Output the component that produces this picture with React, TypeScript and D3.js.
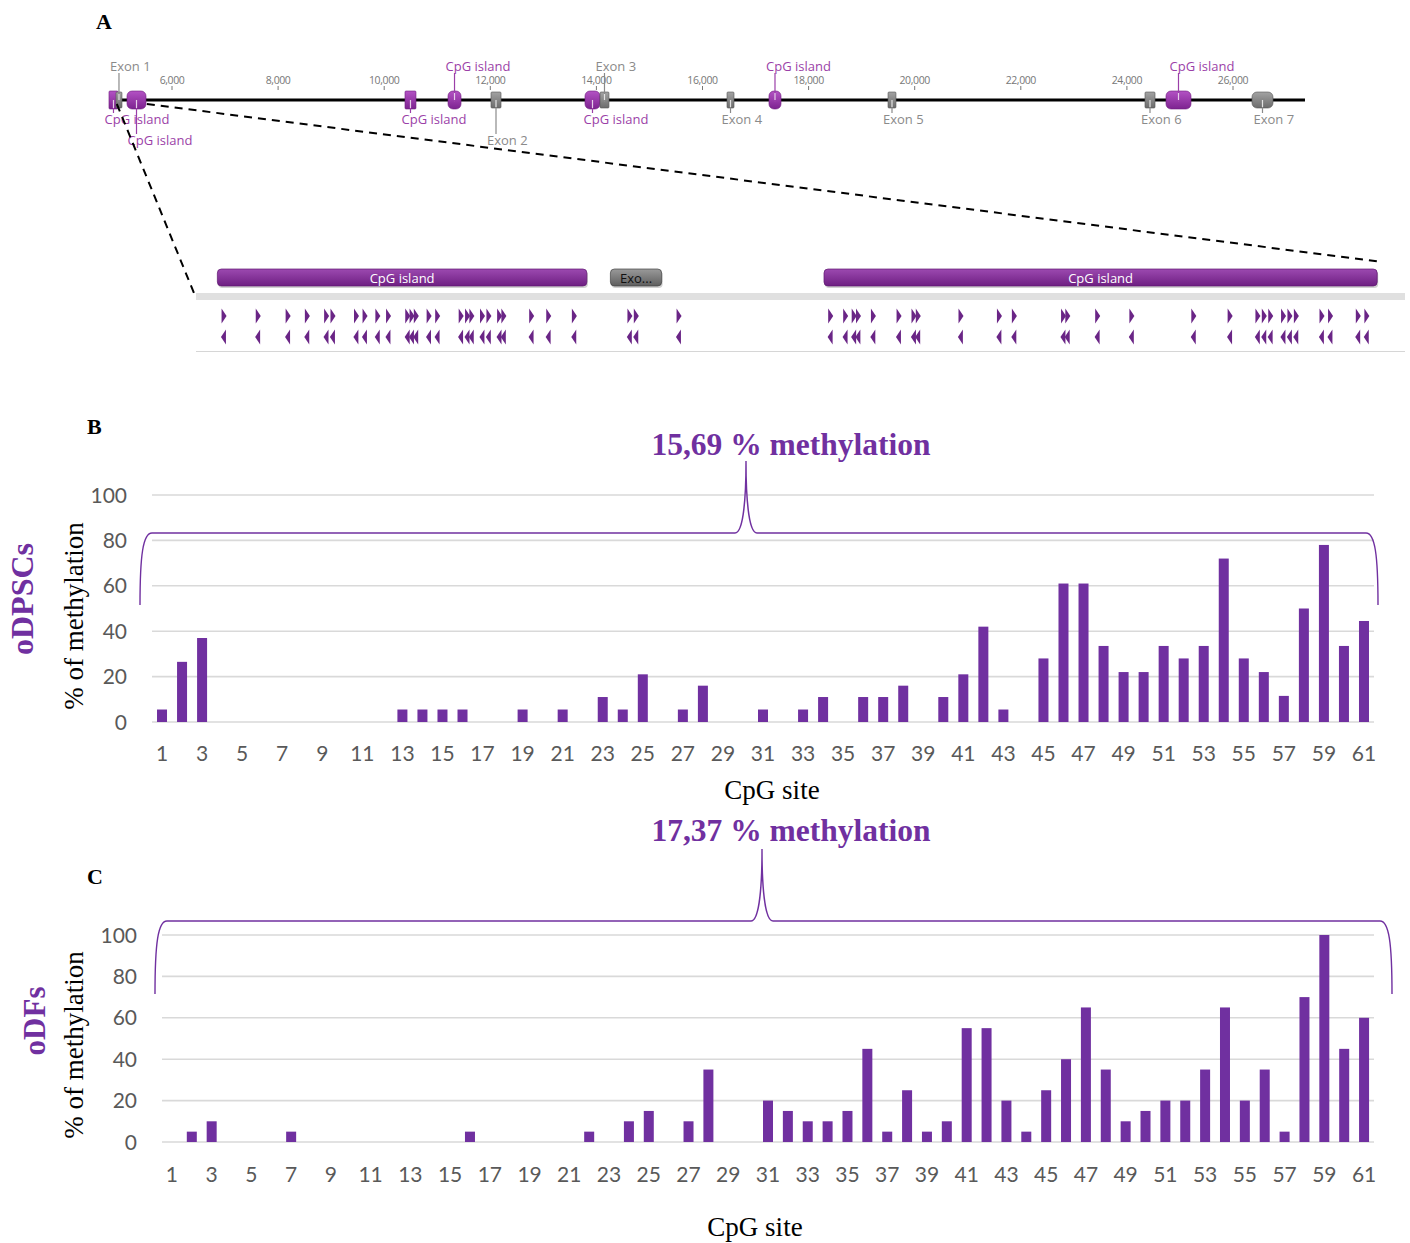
import React from "react";
import * as d3 from "d3";

const W = 1410;
const H = 1243;
const PURPLE = "#7030a0";
const TICK_GREY = "#595959";
const GRID = "#d9d9d9";
const SANS = "Lato, 'Open Sans', sans-serif";
const SERIF = "'Liberation Serif', 'Times New Roman', serif";
const GMAP_FONT = "'Open Sans', 'Noto Sans', sans-serif";

// ---- panel A: gene map (bp positions) ----
const mapTicks = [6000, 8000, 10000, 12000, 14000, 16000, 18000, 20000, 22000, 24000, 26000];
const mapSpan = [4831, 27357];
const mapFeatures = [
  { name: "CpG island", kind: "cpg", start: 4812, end: 4982, label: "below1" },
  { name: "Exon 1", kind: "exon", start: 4944, end: 5057, label: "above" },
  { name: "CpG island", kind: "cpg", start: 5152, end: 5510, label: "below2" },
  { name: "CpG island", kind: "cpg", start: 10392, end: 10599, label: "below1" },
  { name: "CpG island", kind: "cpg", start: 11203, end: 11448, label: "above" },
  { name: "Exon 2", kind: "exon", start: 12013, end: 12202, label: "below2" },
  { name: "CpG island", kind: "cpg", start: 13785, end: 14068, label: "below1" },
  { name: "Exon 3", kind: "exon", start: 14068, end: 14237, label: "above" },
  { name: "Exon 4", kind: "exon", start: 16462, end: 16594, label: "below1" },
  { name: "CpG island", kind: "cpg", start: 17253, end: 17480, label: "above" },
  { name: "Exon 5", kind: "exon", start: 19497, end: 19647, label: "below1" },
  { name: "Exon 6", kind: "exon", start: 24341, end: 24530, label: "below1" },
  { name: "CpG island", kind: "cpg", start: 24737, end: 25208, label: "above" },
  { name: "Exon 7", kind: "exon", start: 26358, end: 26754, label: "below1" },
];

// zoomed promoter region
const zoomSpan = [4960, 5526];
const zoomBlocks = [
  { name: "CpG island", kind: "cpg", start: 4970, end: 5143 },
  { name: "Exo...", kind: "exon", start: 5154, end: 5178 },
  { name: "CpG island", kind: "cpg", start: 5254, end: 5513 },
];
const cpgSites = [
  4973, 4989, 5003, 5012, 5021, 5024, 5035, 5039, 5045, 5050, 5059, 5061, 5063, 5069,
  5073, 5084, 5087, 5089, 5094, 5097, 5102, 5104, 5117, 5125, 5137, 5163, 5166, 5186,
  5257, 5264, 5268, 5270, 5277, 5289, 5296, 5298, 5318, 5336, 5343, 5366, 5368, 5382,
  5398, 5427, 5444, 5457, 5460, 5463, 5469, 5472, 5475, 5487, 5491, 5504, 5508,
];

// ---- panels B and C: % methylation per CpG site ----
const cpgSiteIds = d3.range(1, 62);
const yTicks = [0, 20, 40, 60, 80, 100];
const odpscValues = [
  5.5, 26.5, 37, 0, 0, 0, 0, 0, 0, 0, 0, 0, 5.5, 5.5, 5.5, 5.5, 0, 0, 5.5, 0,
  5.5, 0, 11, 5.5, 21, 0, 5.5, 16, 0, 0, 5.5, 0, 5.5, 11, 0, 11, 11, 16, 0, 11,
  21, 42, 5.5, 0, 28, 61, 61, 33.5, 22, 22, 33.5, 28, 33.5, 72, 28, 22, 11.5, 50, 78, 33.5,
  44.5,
];
const odfValues = [
  0, 5, 10, 0, 0, 0, 5, 0, 0, 0, 0, 0, 0, 0, 0, 5, 0, 0, 0, 0,
  0, 5, 0, 10, 15, 0, 10, 35, 0, 0, 20, 15, 10, 10, 15, 45, 5, 25, 5, 10,
  55, 55, 20, 5, 25, 40, 65, 35, 10, 15, 20, 20, 35, 65, 20, 35, 5, 70, 100, 45,
  60,
];
const odpscMean = "15,69 % methylation";
const odfMean = "17,37 % methylation";

function GeneMap() {
  const x = d3.scaleLinear().domain([6000, 26000]).range([172, 1233]);
  const fmt = d3.format(",");
  const lineY = 100;
  return (
    <g>
      <defs>
        <linearGradient id="cpgGrad" x1="0" y1="0" x2="0" y2="1">
          <stop offset="0" stopColor="#b352c4" />
          <stop offset="1" stopColor="#7d2390" />
        </linearGradient>
        <linearGradient id="exonGrad" x1="0" y1="0" x2="0" y2="1">
          <stop offset="0" stopColor="#a3a3a3" />
          <stop offset="1" stopColor="#6c6c6c" />
        </linearGradient>
        <linearGradient id="trackCpg" x1="0" y1="0" x2="0" y2="1">
          <stop offset="0" stopColor="#9c49b0" />
          <stop offset="1" stopColor="#6e1f82" />
        </linearGradient>
        <linearGradient id="trackExon" x1="0" y1="0" x2="0" y2="1">
          <stop offset="0" stopColor="#9a9a9a" />
          <stop offset="1" stopColor="#5e5e5e" />
        </linearGradient>
      </defs>
      {mapTicks.map((t) => (
        <g key={t}>
          <text x={x(t)} y={84} textAnchor="middle" fontSize={10.5} fill="#777" fontFamily={GMAP_FONT} letterSpacing={-0.4}>
            {fmt(t)}
          </text>
          <line x1={x(t)} x2={x(t)} y1={86} y2={90} stroke="#777" strokeWidth={1} />
        </g>
      ))}
      <line x1={x(mapSpan[0])} x2={x(mapSpan[1])} y1={lineY} y2={lineY} stroke="#000" strokeWidth={3} />
      {mapFeatures.map((f, i) => {
        const x0 = x(f.start);
        const x1 = x(f.end);
        const w = x1 - x0;
        const cx = (x0 + x1) / 2;
        const isCpg = f.kind === "cpg";
        const top = isCpg ? 91 : 92;
        const bot = isCpg ? 109 : 108;
        const color = isCpg ? "#9b3fa8" : "#8a8a8a";
        let ly = 71;
        if (f.label === "below1") ly = 124;
        if (f.label === "below2") ly = 145;
        const conn =
          f.label === "above"
            ? { y1: 73, y2: lineY + 2 }
            : { y1: lineY - 2, y2: f.label === "below1" ? 113 : 134 };
        return (
          <g key={i}>
            <rect x={x0} y={top} width={w} height={bot - top} rx={w >= 12 ? 5 : 1} fill={isCpg ? "url(#cpgGrad)" : "url(#exonGrad)"} stroke={isCpg ? "#6f1d80" : "#555"} strokeWidth={0.6} />
            <line x1={cx} x2={cx} y1={conn.y1} y2={conn.y2} stroke={color} strokeWidth={1.2} />
            <line x1={cx} x2={cx} y1={f.label === "above" ? top + 2 : lineY} y2={f.label === "above" ? lineY : bot - 1} stroke="#fff" strokeOpacity={0.75} strokeWidth={1.2} />
            <text x={cx - 9} y={ly} fontSize={13} fill={color} fontFamily={GMAP_FONT}>
              {f.name}
            </text>
          </g>
        );
      })}
      <line x1={x(zoomSpan[0])} y1={104} x2={196} y2={298} stroke="#000" strokeWidth={2} strokeDasharray="8,6" />
      <line x1={x(zoomSpan[1])} y1={104} x2={1382} y2={262} stroke="#000" strokeWidth={2} strokeDasharray="8,6" />
    </g>
  );
}

function ZoomTrack() {
  const z = d3.scaleLinear().domain(zoomSpan).range([196, 1405]);
  const fwd = (cx: number, cy: number) => `M${cx - 2.2},${cy - 7.5} L${cx + 2.8},${cy} L${cx - 2.2},${cy + 7.5} Z`;
  const rev = (cx: number, cy: number) => `M${cx + 2.2},${cy - 7.5} L${cx - 2.8},${cy} L${cx + 2.2},${cy + 7.5} Z`;
  return (
    <g>
      {zoomBlocks.map((b, i) => {
        const x0 = z(b.start);
        const x1 = z(b.end);
        const isCpg = b.kind === "cpg";
        return (
          <g key={i}>
            <rect x={x0 + 1} y={271} width={x1 - x0} height={17} rx={4} fill="#000" opacity={0.18} />
            <rect x={x0} y={269} width={x1 - x0} height={17} rx={4} fill={isCpg ? "url(#trackCpg)" : "url(#trackExon)"} stroke={isCpg ? "#5e1870" : "#444"} strokeWidth={0.7} />
            <text x={(x0 + x1) / 2} y={282.5} textAnchor="middle" fontSize={13} fill={isCpg ? "#fff" : "#111"} fontFamily={GMAP_FONT}>
              {b.name}
            </text>
          </g>
        );
      })}
      <rect x={196} y={293} width={1209} height={7} fill="#e0e0e0" />
      <line x1={196} x2={1405} y1={351.5} y2={351.5} stroke="#d6d6d6" strokeWidth={1.2} />
      {cpgSites.map((s, i) => (
        <g key={i}>
          <path d={fwd(z(s), 316)} fill="#6a2586" />
          <path d={rev(z(s), 337)} fill="#6a2586" />
        </g>
      ))}
    </g>
  );
}

type BarPanelProps = {
  values: number[];
  xRange: [number, number];
  yRange: [number, number];
  yLabelX: number;
  xLabelY: number;
};

function BarPanel({ values, xRange, yRange, yLabelX, xLabelY }: BarPanelProps) {
  const x = d3.scaleBand<number>().domain(cpgSiteIds).range(xRange).paddingInner(0).paddingOuter(0);
  const y = d3.scaleLinear().domain([0, 100]).range(yRange);
  const bw = 10;
  return (
    <g>
      {yTicks.map((t) => (
        <g key={t}>
          <line x1={xRange[0]} x2={xRange[1]} y1={y(t)} y2={y(t)} stroke={GRID} strokeWidth={1.6} />
          <text x={yLabelX} y={y(t)} dy="0.36em" textAnchor="end" fontSize={21} fill={TICK_GREY} fontFamily={SANS}>
            {t}
          </text>
        </g>
      ))}
      {cpgSiteIds.map((id, i) => {
        const v = values[i];
        const cx = (x(id) as number) + x.bandwidth() / 2;
        return (
          <g key={id}>
            {v > 0 && <rect x={cx - bw / 2} y={y(v)} width={bw} height={y(0) - y(v)} fill={PURPLE} />}
            {id % 2 === 1 && (
              <text x={cx} y={xLabelY} textAnchor="middle" fontSize={21} fill={TICK_GREY} fontFamily={SANS}>
                {id}
              </text>
            )}
          </g>
        );
      })}
    </g>
  );
}

function Brace({ x0, x1, y, tip, tipY, bottom }: { x0: number; x1: number; y: number; tip: number; tipY: number; bottom: number }) {
  const p = d3.path();
  p.moveTo(x0, bottom);
  p.bezierCurveTo(x0, y + 22, x0 + 3, y, x0 + 12, y);
  p.lineTo(tip - 11, y);
  p.bezierCurveTo(tip - 4, y, tip, y - 26, tip, tipY);
  p.bezierCurveTo(tip, y - 26, tip + 4, y, tip + 11, y);
  p.lineTo(x1 - 12, y);
  p.bezierCurveTo(x1 - 3, y, x1, y + 22, x1, bottom);
  return <path d={p.toString()} fill="none" stroke={PURPLE} strokeWidth={1.4} />;
}

export default function App() {
  return (
    <svg width={W} height={H} viewBox={`0 0 ${W} ${H}`} style={{ position: "absolute", left: 0, top: 0, background: "#fff" }}>
      <rect width={W} height={H} fill="#fff" />
      <text x={96} y={29} fontSize={22} fontWeight="bold" fontFamily={SERIF}>A</text>
      <GeneMap />
      <ZoomTrack />

      {/* panel B */}
      <text x={87} y={434} fontSize={22} fontWeight="bold" fontFamily={SERIF}>B</text>
      <text x={791} y={455} textAnchor="middle" fontSize={31.5} fontWeight="bold" fill={PURPLE} fontFamily={SERIF}>
        {odpscMean}
      </text>
      <BarPanel values={odpscValues} xRange={[152, 1374]} yRange={[722, 495]} yLabelX={127} xLabelY={761} />
      <Brace x0={140} x1={1378} y={533} tip={746} tipY={461} bottom={605} />
      <text x={772} y={799} textAnchor="middle" fontSize={27} fontFamily={SERIF}>CpG site</text>
      <text transform="translate(83,616) rotate(-90)" textAnchor="middle" fontSize={27} fontFamily={SERIF}>% of methylation</text>
      <text transform="translate(33,599) rotate(-90)" textAnchor="middle" fontSize={32} fontWeight="bold" fill={PURPLE} fontFamily={SERIF}>oDPSCs</text>

      {/* panel C */}
      <text x={87} y={884} fontSize={22} fontWeight="bold" fontFamily={SERIF}>C</text>
      <text x={791} y={841} textAnchor="middle" fontSize={31.5} fontWeight="bold" fill={PURPLE} fontFamily={SERIF}>
        {odfMean}
      </text>
      <BarPanel values={odfValues} xRange={[162, 1374]} yRange={[1142, 935]} yLabelX={137} xLabelY={1182} />
      <Brace x0={155} x1={1392} y={921} tip={762} tipY={849} bottom={994} />
      <text x={755} y={1236} textAnchor="middle" fontSize={27} fontFamily={SERIF}>CpG site</text>
      <text transform="translate(83,1045) rotate(-90)" textAnchor="middle" fontSize={27} fontFamily={SERIF}>% of methylation</text>
      <text transform="translate(45,1021) rotate(-90)" textAnchor="middle" fontSize={31} fontWeight="bold" fill={PURPLE} fontFamily={SERIF}>oDFs</text>
    </svg>
  );
}
